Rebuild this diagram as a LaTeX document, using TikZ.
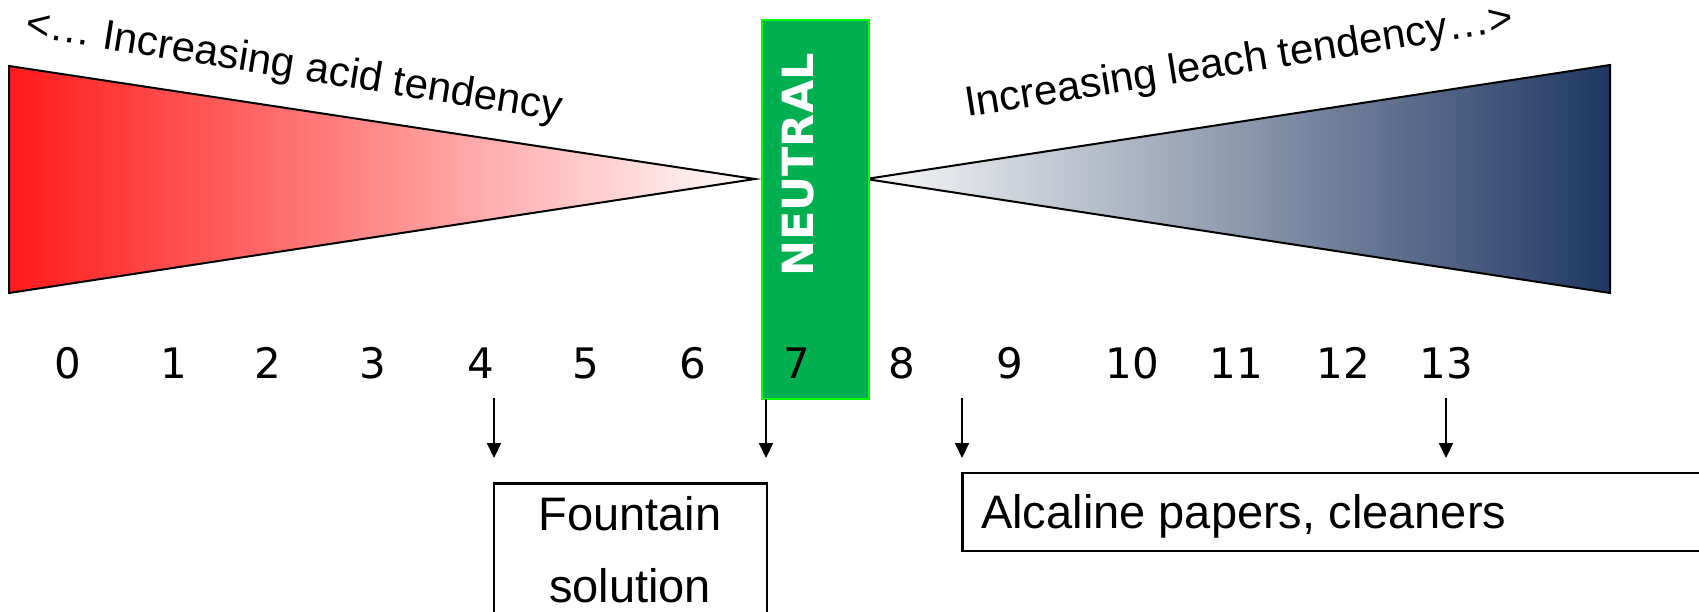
\documentclass[tikz,border=0pt]{standalone}
\usepackage{fontspec}
\setmainfont{Liberation Sans}
\newfontfamily\dvfont{DejaVu Sans}
\usetikzlibrary{arrows.meta}
\definecolor{acidred}{RGB}{255,26,26}
\definecolor{leachnavy}{RGB}{31,56,98}
\definecolor{leachmid}{RGB}{172,175,183}
\definecolor{leachlight}{RGB}{250,250,250}
\definecolor{neutralgreen}{RGB}{0,176,80}
\definecolor{neutraledge}{RGB}{0,255,0}
\tikzset{
  digit/.style={font=\dvfont\fontsize{42}{50}\selectfont, anchor=base, inner sep=0pt},
  tendency/.style={font=\fontsize{42}{50}\selectfont, anchor=base west, inner sep=0pt},
  boxtext/.style={font=\fontsize{47}{72}\selectfont, inner sep=0pt},
  arr/.style={line width=2pt, -{Triangle[length=15pt,width=14pt]}},
  wedge/.style={draw=black, line width=2pt, line join=miter},
  framebox/.style={draw=black, line width=2pt}
}
\begin{document}
\begin{tikzpicture}[x=1pt,y=-1pt]
\clip (0,0) rectangle (1699,611);
\fill[white] (0,0) rectangle (1699,611);

% wedges
\shadedraw[wedge, left color=acidred, right color=white] (9,66) -- (755,179) -- (9,293) -- cycle;
\shadedraw[wedge, left color=leachlight, middle color=leachmid, right color=leachnavy] (866,179) -- (1610,65) -- (1610,293) -- cycle;

% neutral bar
\filldraw[fill=neutralgreen, draw=neutraledge, line width=1.5pt] (762,20) rectangle (869,399);
\node[rotate=90, anchor=base, font=\dvfont\bfseries\fontsize{43}{50}\selectfont, text=white, inner sep=0pt] (neutral) at (813,165) {NEUTRAL};

% rotated captions
\node[tendency, rotate=-9] (acid) at (24,36) {<… Increasing acid tendency};
\node[tendency, rotate=9] (leach) at (967,117) {Increasing leach tendency…>};

% scale digits
\node[digit] (d0) at (68,378) {0};
\node[digit] (d1) at (174,378) {1};
\node[digit] (d2) at (268,378) {2};
\node[digit] (d3) at (373,378) {3};
\node[digit] (d4) at (481,378) {4};
\node[digit] (d5) at (586,378) {5};
\node[digit] (d6) at (693,378) {6};
\node[digit] (d7) at (797,378) {7};
\node[digit] (d8) at (902,378) {8};
\node[digit] (d9) at (1010,378) {9};
\node[digit] (d10) at (1132,378) {10};
\node[digit] (d11) at (1236,378) {11};
\node[digit] (d12) at (1343,378) {12};
\node[digit] (d13) at (1446,378) {13};

% arrows
\coordinate (a4s) at (494,398);  \coordinate (a4e) at (494,458);
\coordinate (a7s) at (766,399);  \coordinate (a7e) at (766,458);
\coordinate (a9s) at (962,398);  \coordinate (a9e) at (962,458);
\coordinate (a13s) at (1446,398); \coordinate (a13e) at (1446,458);
\draw[arr] (a4s) -- (a4e);
\draw[arr] (a7s) -- (a7e);
\draw[arr] (a9s) -- (a9e);
\draw[arr] (a13s) -- (a13e);

% fountain solution box
\draw[framebox] (494,650) -- (494,483) -- (767,483) -- (767,650);
\draw[line width=3pt] (493,483) -- (768,483);
\node[boxtext, align=center, anchor=base] (fountain) at (630,602) {Fountain\\solution};

% alcaline box
\draw[framebox] (1720,473) -- (962,473) -- (962,551) -- (1720,551);
\draw[line width=3pt] (962,472) -- (962,552);
\node[boxtext, anchor=base west] (alcaline) at (981,528) {Alcaline papers, cleaners};
\end{tikzpicture}
\end{document}
